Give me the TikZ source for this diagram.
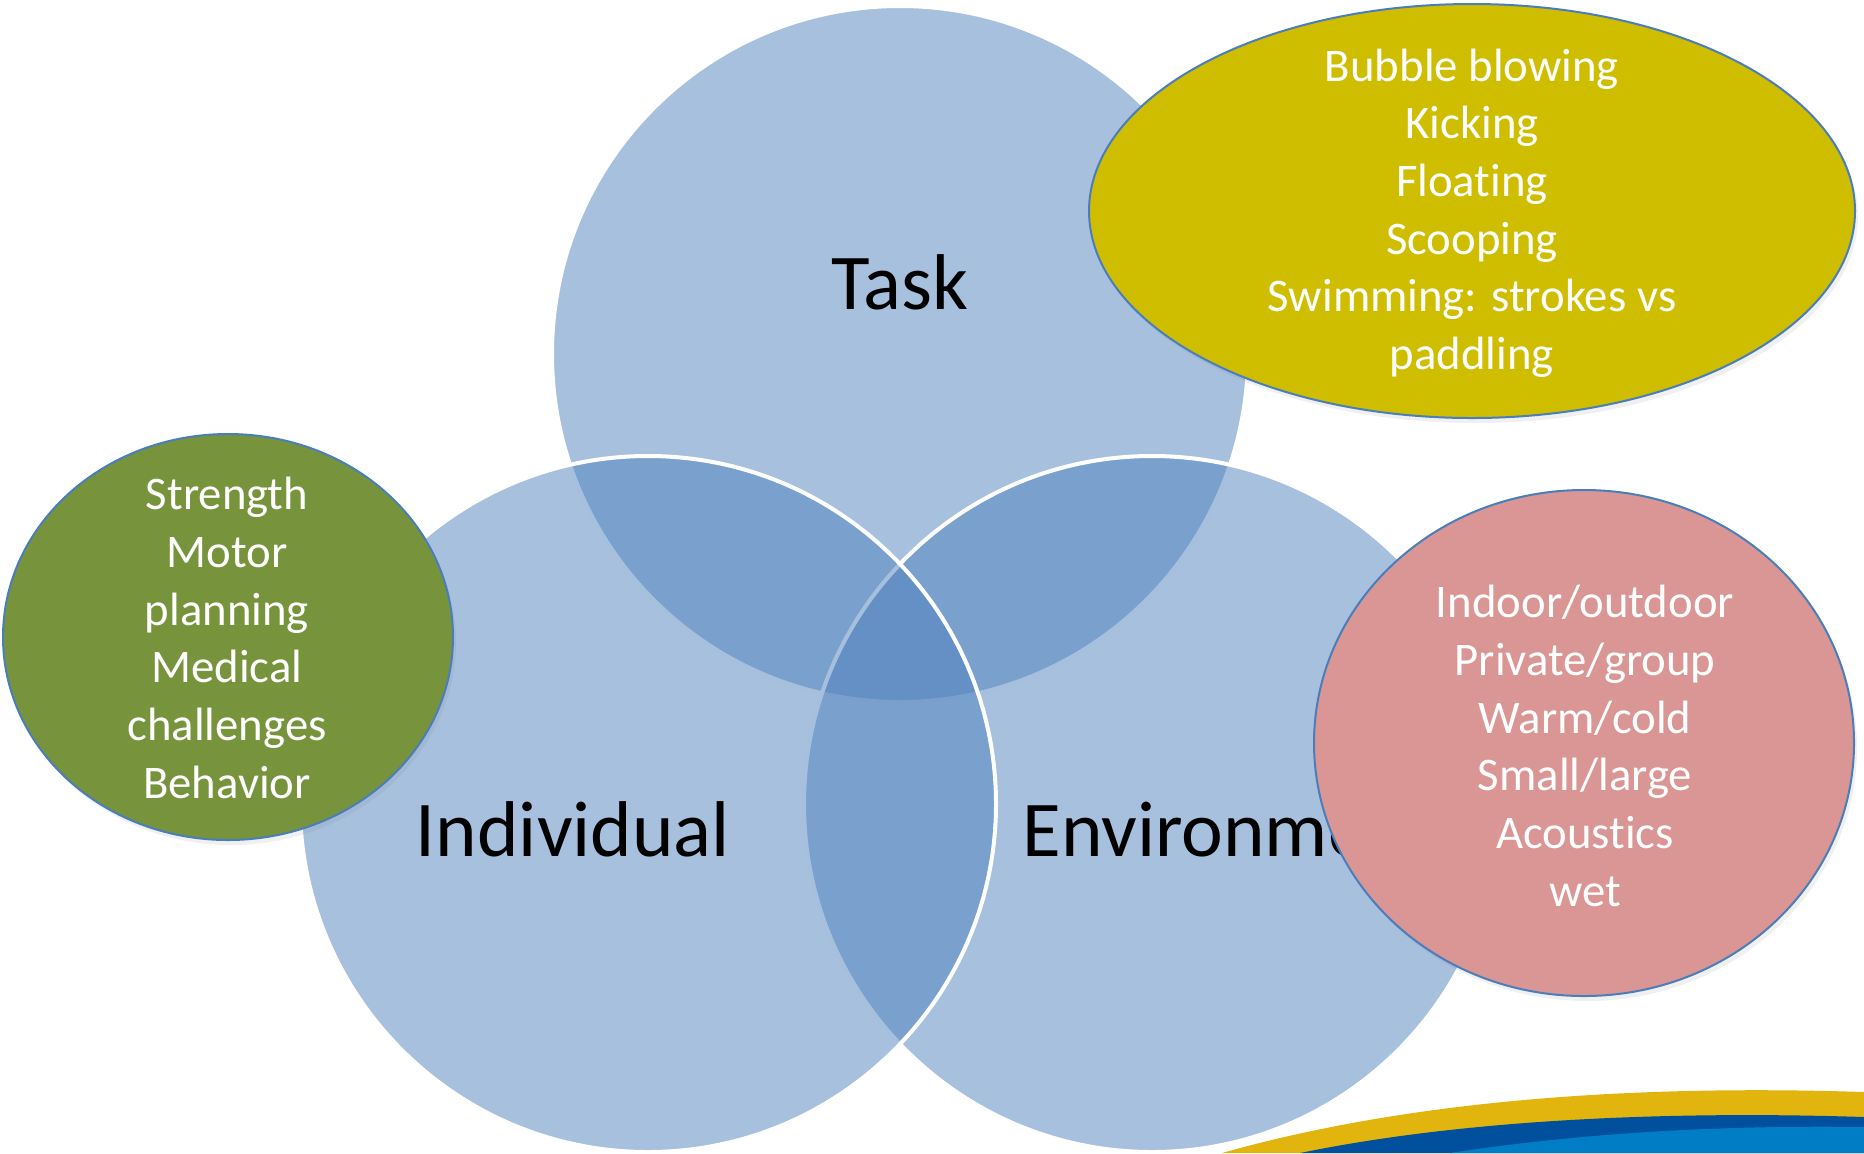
\documentclass[tikz,border=0pt]{standalone}
\usepackage{fontspec}
\setmainfont{Carlito}[Ligatures=NoCommon]
\usetikzlibrary{shadows}
\definecolor{venn}{HTML}{4F81BD}
\definecolor{taskyel}{RGB}{207,189,0}
\definecolor{indgreen}{RGB}{119,147,60}
\definecolor{envpink}{RGB}{217,150,148}
\definecolor{rimblue}{HTML}{4A7EBB}
\definecolor{bargold}{RGB}{226,180,14}
\definecolor{bardark}{RGB}{0,80,158}
\definecolor{barlight}{RGB}{0,125,196}
\begin{document}
\begin{tikzpicture}[x=0.1mm,y=-0.1mm,line join=round,
	venn/.style={fill=venn,fill opacity=0.5,draw=white,draw opacity=1,line width=0.4mm},
	blob/.style={draw=rimblue,line width=0.2mm,drop shadow={shadow xshift=0.3mm,shadow yshift=-0.5mm,opacity=0.12}},
	note/.style={text=white,align=center,inner sep=0pt,font=\fontsize{13.3}{16.4}\selectfont},
	big/.style={anchor=base,inner sep=0pt,font=\fontsize{22.5}{27}\selectfont}]
	\useasboundingbox (0,0) rectangle (1864,1153);
	\clip (0,0) rectangle (1864,1153);
	% the three circles, task first so the others lie over its rim
	\coordinate (T) at (900,354);
	\coordinate (E) at (1152,804);
	\coordinate (I) at (648,804);
	\draw[venn] (T) circle[radius=348];
	\draw[venn] (E) circle[radius=348];
	\draw[venn] (I) circle[radius=348];
	\node[big] (task) at (900,309) {Task};
	\node[big] (indiv) at (573,856) {Individual};
	\node[big,anchor=base west] (envir) at (1022,856) {Environment};
	% swoosh in the corner
	\fill[white] (1208,1153) .. controls (1410,1088) and (1650,1076) .. (1864,1083) -- (1864,1153) -- cycle;
	\fill[bargold] (1222,1153) .. controls (1420,1097) and (1650,1085) .. (1864,1092) -- (1864,1153) -- cycle;
	\fill[bardark] (1300,1153) .. controls (1470,1118) and (1680,1111) .. (1864,1117) -- (1864,1153) -- cycle;
	\fill[barlight] (1450,1153) .. controls (1580,1133) and (1720,1125) .. (1864,1127) -- (1864,1153) -- cycle;
	% callouts
	\path[blob,fill=taskyel] (1472,211) ellipse[x radius=383,y radius=207];
	\node[note] (tasklist) at (1472,213) {Bubble blowing\\Kicking\\Floating\\Scooping\\Swimming: strokes vs\\paddling};
	\path[blob,fill=indgreen] (228,637) ellipse[x radius=225,y radius=203];
	\node[note] (indlist) at (227,638) {Strength\\Motor\\planning\\Medical\\challenges\\Behavior};
	\path[blob,fill=envpink] (1584,743) ellipse[x radius=270,y radius=253];
	\node[note] (envlist) at (1585,746) {Indoor/outdoor\\Private/group\\Warm/cold\\Small/large\\Acoustics\\wet};
\end{tikzpicture}
\end{document}
